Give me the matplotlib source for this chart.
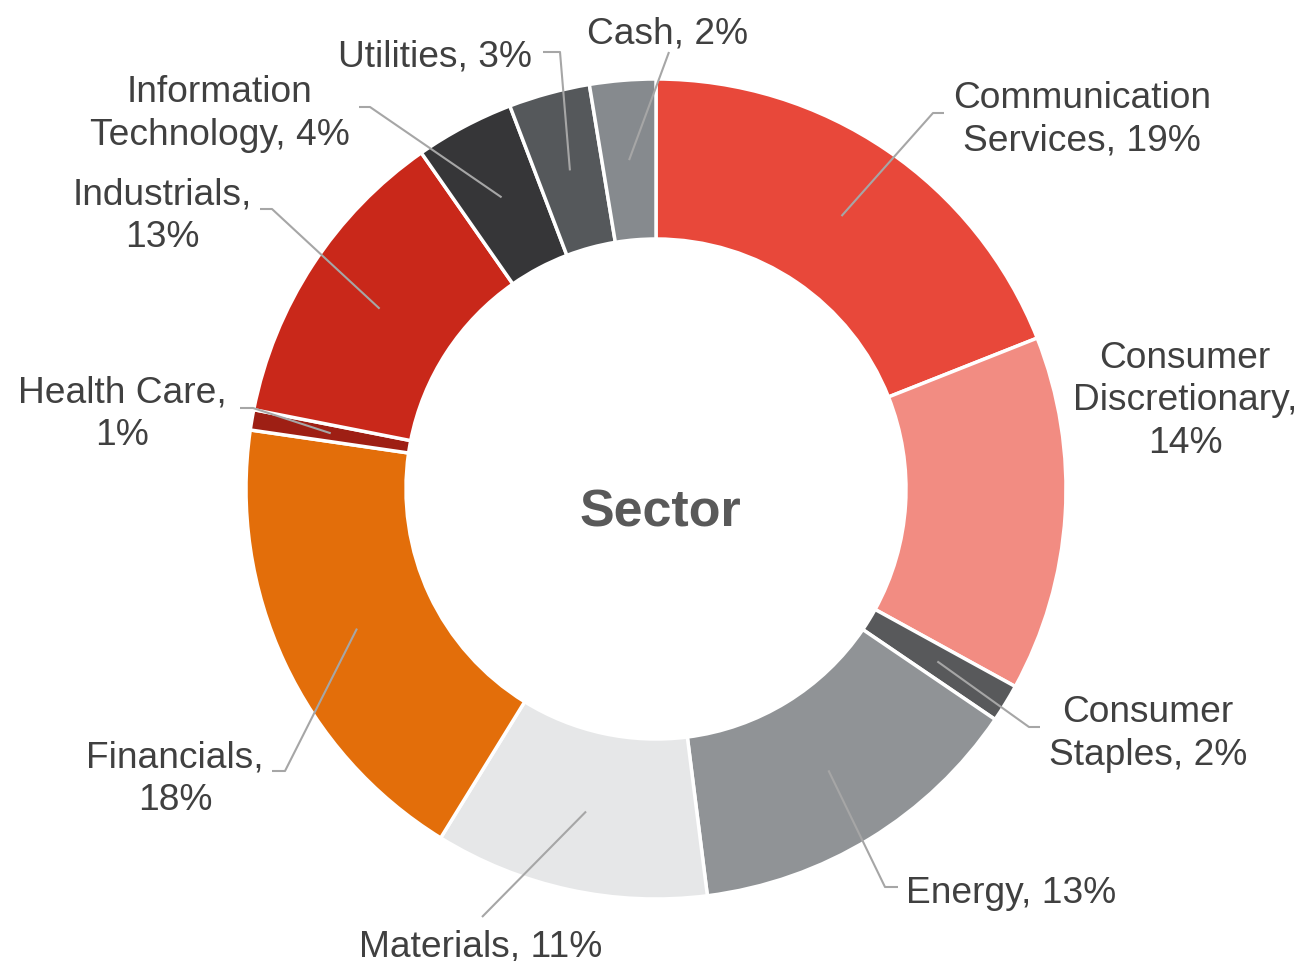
import numpy as np
import matplotlib
matplotlib.use("Agg")
import matplotlib.pyplot as plt

plt.rcParams['font.family'] = ['Liberation Sans', 'DejaVu Sans']

sectors = ["Communication Services", "Consumer Discretionary", "Consumer Staples", "Energy",
           "Materials", "Financials", "Health Care", "Industrials",
           "Information Technology", "Utilities", "Cash"]
values = [19.0, 14.0, 1.5, 13.5, 10.8, 18.5, 0.8, 12.2, 3.9, 3.2, 2.6]
labels = ["Communication\nServices, 19%", "Consumer\nDiscretionary,\n14%", "Consumer\nStaples, 2%",
          "Energy, 13%", "Materials, 11%", "Financials,\n18%", "Health Care,\n1%",
          "Industrials,\n13%", "Information\nTechnology, 4%", "Utilities, 3%", "Cash, 2%"]
colors = ["#E8483A", "#F28C82", "#58595B", "#909396", "#E6E7E8", "#E36E0A",
          "#9E1F14", "#C9281A", "#363638", "#55585B", "#868A8E"]

W, H = 1301, 962
fig = plt.figure(figsize=(W / 100, H / 100), dpi=100)
ax = fig.add_axes([0, 0, 1, 1])

def fy(y):
    return H - y

cx, cy = 656, 490
R_out, R_in = 410, 250
ax.pie(values, colors=colors, startangle=90, counterclock=False,
       radius=R_out, center=(cx, fy(cy)),
       wedgeprops=dict(width=R_out - R_in, edgecolor="white", linewidth=2.5))
ax.set_xlim(0, W)
ax.set_ylim(0, H)
ax.set_aspect('equal')
ax.axis('off')

ax.text(cx + 4, fy(513), "Sector", ha="center", va="center", fontsize=37.5,
        fontweight="bold", color="#595959")

# label layout: (text x, text y, ha) and leader (elbow, end) in image pixels
label_pos = [(1082, 116, "center"), (1185, 397, "center"), (1148, 730, "center"),
             (906, 890, "left"), (481, 943, "center"), (175, 775, "center"),
             (122, 410, "center"), (162, 212, "center"), (220, 110, "center"),
             (435, 53, "center"), (668, 30, "center")]
leaders = [((933, 114), (944, 114)), None, ((1029, 728), (1040, 728)),
           ((885, 888), (898, 888)), ((482, 918), None), ((285, 772), (272, 772)),
           ((253, 409), (240, 409)), ((272, 210), (260, 210)), ((370, 108), (359, 108)),
           ((560, 53), (543, 53)), ((669, 53), None)]

total = sum(values)
cum = np.cumsum([0] + values)
r_mid = (R_out + R_in) / 2
for i, lab in enumerate(labels):
    tx, ty, ha = label_pos[i]
    ax.text(tx, fy(ty + 4), lab, ha=ha, va="center", fontsize=26.7, color="#404040",
            linespacing=1.27, multialignment="center")
    ld = leaders[i]
    if ld is None:
        continue
    mid = (cum[i] + cum[i + 1]) / 2 / total * 2 * np.pi
    sx = cx + r_mid * np.sin(mid)
    sy = cy - r_mid * np.cos(mid)
    pts = [(sx, sy), ld[0]]
    if ld[1] is not None:
        pts.append(ld[1])
    xs = [p[0] for p in pts]
    ys = [fy(p[1]) for p in pts]
    ax.plot(xs, ys, color="#A6A6A6", lw=1.5, solid_capstyle="butt")

fig.savefig("out.png", dpi=100)
